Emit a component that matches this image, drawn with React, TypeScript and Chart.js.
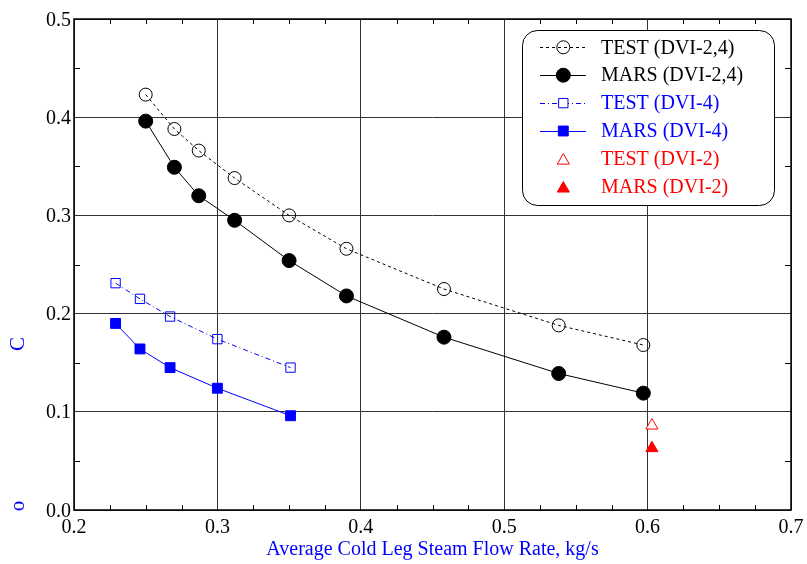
import React, { useEffect, useRef } from 'react';
import { Chart, registerables } from 'chart.js';

Chart.register(...registerables);

// ---- data ----
const flowDvi24 = [0.25, 0.27, 0.287, 0.312, 0.35, 0.39, 0.458, 0.538, 0.597];
const testDvi24 = [0.423, 0.388, 0.366, 0.338, 0.3, 0.266, 0.225, 0.188, 0.168];
const marsDvi24 = [0.396, 0.349, 0.32, 0.295, 0.254, 0.218, 0.176, 0.139, 0.119];

const flowDvi4 = [0.229, 0.246, 0.267, 0.3, 0.351];
const testDvi4 = [0.231, 0.215, 0.197, 0.174, 0.145];
const marsDvi4 = [0.19, 0.164, 0.145, 0.124, 0.096];

const flowDvi2 = [0.603];
const testDvi2 = [0.086];
const marsDvi2 = [0.063];

const xTicks = [0.2, 0.3, 0.4, 0.5, 0.6, 0.7];
const yTicks = [0.0, 0.1, 0.2, 0.3, 0.4, 0.5];
const xTickLabels = ['0.2', '0.3', '0.4', '0.5', '0.6', '0.7'];
const yTickLabels = ['0.0', '0.1', '0.2', '0.3', '0.4', '0.5'];
const xMinorTicks = [0.225, 0.25, 0.275, 0.325, 0.35, 0.375, 0.425, 0.45, 0.475, 0.525, 0.55, 0.575, 0.625, 0.65, 0.675];
const yMinorTicks = [0.05, 0.15, 0.25, 0.35, 0.45];

const seriesLabels = ['TEST (DVI-2,4)', 'MARS (DVI-2,4)', 'TEST (DVI-4)', 'MARS (DVI-4)', 'TEST (DVI-2)', 'MARS (DVI-2)'];
const xTitle = 'Average Cold Leg Steam Flow Rate, kg/s';
const yTitleParts = ['C', 'o'];

const SERIF = '"Liberation Serif", "Times New Roman", serif';
const BLUE = '#0000ff';
const RED = '#ff0000';

Chart.defaults.font.family = SERIF;

const pts = (xs: number[], ys: number[]) => xs.map((x, i) => ({ x, y: ys[i] }));

type LegendItem = {
  color: string;
  line: boolean;
  dash: number[];
  style: 'circle' | 'rect' | 'triangle';
  filled: boolean;
  size: number;
};

const legendStyles: LegendItem[] = [
  { color: '#000', line: true, dash: [3, 3], style: 'circle', filled: false, size: 6.5 },
  { color: '#000', line: true, dash: [], style: 'circle', filled: true, size: 7 },
  { color: BLUE, line: true, dash: [5, 3, 1, 3], style: 'rect', filled: false, size: 6.6 },
  { color: BLUE, line: true, dash: [], style: 'rect', filled: true, size: 7 },
  { color: RED, line: false, dash: [], style: 'triangle', filled: false, size: 7 },
  { color: RED, line: false, dash: [], style: 'triangle', filled: true, size: 7 },
];

function drawMarker(ctx: CanvasRenderingContext2D, it: LegendItem, x: number, y: number) {
  ctx.save();
  ctx.setLineDash([]);
  ctx.lineWidth = 1;
  ctx.strokeStyle = it.color;
  ctx.fillStyle = it.filled ? it.color : '#fff';
  ctx.beginPath();
  const r = it.size;
  if (it.style === 'circle') {
    ctx.arc(x, y, r, 0, Math.PI * 2);
  } else if (it.style === 'rect') {
    const h = r * Math.SQRT1_2;
    ctx.rect(x - h, y - h, 2 * h, 2 * h);
  } else {
    const yc = y + r * 0.25;
    ctx.moveTo(x, yc - r);
    ctx.lineTo(x + r * 0.866, yc + r * 0.5);
    ctx.lineTo(x - r * 0.866, yc + r * 0.5);
    ctx.closePath();
  }
  if (it.filled || it.style !== 'circle') ctx.fill();
  ctx.stroke();
  ctx.restore();
}

const decorPlugin = {
  id: 'decor',
  beforeDatasetsDraw(chart: any) {
    const { ctx, chartArea, scales } = chart;
    const { left, right, top, bottom } = chartArea;
    ctx.save();
    ctx.strokeStyle = '#000';
    ctx.lineWidth = 1;
    ctx.beginPath();
    for (const v of xMinorTicks) {
      const px = Math.round(scales.x.getPixelForValue(v)) + 0.5;
      ctx.moveTo(px, bottom);
      ctx.lineTo(px, bottom - 5);
      ctx.moveTo(px, top);
      ctx.lineTo(px, top + 5);
    }
    for (const v of yMinorTicks) {
      const py = Math.round(scales.y.getPixelForValue(v)) + 0.5;
      ctx.moveTo(left, py);
      ctx.lineTo(left + 6, py);
      ctx.moveTo(right, py);
      ctx.lineTo(right - 6, py);
    }
    ctx.stroke();
    ctx.lineWidth = 1.5;
    ctx.strokeRect(left, top, right - left, bottom - top);
    ctx.restore();
  },
  afterDraw(chart: any) {
    const { ctx, chartArea, scales } = chart;
    const { left, right, bottom } = chartArea;
    ctx.save();
    // tick labels
    ctx.font = `20px ${SERIF}`;
    ctx.fillStyle = '#000';
    ctx.textBaseline = 'alphabetic';
    ctx.textAlign = 'center';
    xTicks.forEach((v, i) => {
      ctx.fillText(xTickLabels[i], scales.x.getPixelForValue(v), bottom + 23);
    });
    ctx.textAlign = 'right';
    yTicks.forEach((v, i) => {
      ctx.fillText(yTickLabels[i], left - 3, scales.y.getPixelForValue(v) + 6.5);
    });
    // x axis title
    ctx.font = `20px ${SERIF}`;
    ctx.fillStyle = BLUE;
    ctx.textAlign = 'center';
    ctx.textBaseline = 'alphabetic';
    ctx.fillText(xTitle, (left + right) / 2, 555);
    // y axis title pieces
    ctx.font = `21px ${SERIF}`;
    const yPos = [344, 506];
    yTitleParts.forEach((t, i) => {
      ctx.save();
      ctx.translate(24, yPos[i]);
      ctx.rotate(-Math.PI / 2);
      ctx.textAlign = 'center';
      ctx.textBaseline = 'alphabetic';
      ctx.fillText(t, 0, 0);
      ctx.restore();
    });
    // legend box
    const bx = 522, by = 30, bw = 252, bh = 175;
    ctx.beginPath();
    (ctx as any).roundRect(bx + 0.5, by + 0.5, bw, bh, 15);
    ctx.fillStyle = '#fff';
    ctx.fill();
    ctx.strokeStyle = '#000';
    ctx.lineWidth = 1;
    ctx.stroke();
    const rowY0 = 47.3, rowGap = 27.9;
    legendStyles.forEach((it, i) => {
      const y = rowY0 + i * rowGap;
      if (it.line) {
        ctx.save();
        ctx.strokeStyle = it.color;
        ctx.lineWidth = 1;
        ctx.setLineDash(it.dash);
        ctx.beginPath();
        ctx.moveTo(540, Math.round(y) + 0.5);
        ctx.lineTo(586, Math.round(y) + 0.5);
        ctx.stroke();
        ctx.restore();
      }
      drawMarker(ctx, it, 563.3, y);
      ctx.font = `20px ${SERIF}`;
      ctx.fillStyle = it.color;
      ctx.textAlign = 'left';
      ctx.textBaseline = 'middle';
      ctx.fillText(seriesLabels[i], 601, y + 1);
    });
    ctx.restore();
  },
};

export default function App() {
  const ref = useRef<HTMLCanvasElement>(null);
  useEffect(() => {
    document.body.style.margin = '0';
    const canvas = ref.current!;
    const chart = new Chart(canvas, {
      type: 'line',
      data: {
        datasets: [
          {
            label: seriesLabels[0],
            data: pts(flowDvi24, testDvi24),
            borderColor: '#000',
            backgroundColor: 'rgba(0,0,0,0)',
            borderWidth: 1,
            borderDash: legendStyles[0].dash,
            pointStyle: 'circle',
            pointRadius: 6.5,
            pointBorderWidth: 1,
            pointBorderColor: '#000',
            pointBackgroundColor: 'rgba(0,0,0,0)',
          },
          {
            label: seriesLabels[1],
            data: pts(flowDvi24, marsDvi24),
            borderColor: '#000',
            backgroundColor: '#000',
            borderWidth: 1,
            pointStyle: 'circle',
            pointRadius: 7,
            pointBorderWidth: 1,
            pointBorderColor: '#000',
            pointBackgroundColor: '#000',
          },
          {
            label: seriesLabels[2],
            data: pts(flowDvi4, testDvi4),
            borderColor: BLUE,
            backgroundColor: 'rgba(0,0,0,0)',
            borderWidth: 1,
            borderDash: legendStyles[2].dash,
            pointStyle: 'rect',
            pointRadius: 6.6,
            pointBorderWidth: 1,
            pointBorderColor: BLUE,
            pointBackgroundColor: 'rgba(0,0,0,0)',
          },
          {
            label: seriesLabels[3],
            data: pts(flowDvi4, marsDvi4),
            borderColor: BLUE,
            backgroundColor: BLUE,
            borderWidth: 1,
            pointStyle: 'rect',
            pointRadius: 7,
            pointBorderWidth: 1,
            pointBorderColor: BLUE,
            pointBackgroundColor: BLUE,
          },
          {
            label: seriesLabels[4],
            data: pts(flowDvi2, testDvi2),
            showLine: false,
            borderColor: RED,
            backgroundColor: '#fff',
            pointStyle: 'triangle',
            pointRadius: 7,
            pointBorderWidth: 1,
            pointBorderColor: RED,
            pointBackgroundColor: '#fff',
          },
          {
            label: seriesLabels[5],
            data: pts(flowDvi2, marsDvi2),
            showLine: false,
            borderColor: RED,
            backgroundColor: RED,
            pointStyle: 'triangle',
            pointRadius: 7,
            pointBorderWidth: 1,
            pointBorderColor: RED,
            pointBackgroundColor: RED,
          },
        ],
      },
      options: {
        responsive: false,
        animation: false,
        devicePixelRatio: 1,
        layout: { padding: { top: 19, right: 16, left: 0, bottom: 0 } },
        plugins: {
          legend: { display: false },
          tooltip: { enabled: false },
          title: { display: false },
        },
        elements: { line: { tension: 0 } },
        scales: {
          x: {
            type: 'linear',
            min: 0.2,
            max: 0.7,
            afterBuildTicks: (s: any) => {
              s.ticks = xTicks.map((v) => ({ value: v }));
            },
            afterFit: (s: any) => {
              s.height = 54;
            },
            ticks: { display: false },
            grid: { color: '#333', lineWidth: 1, drawTicks: false },
            border: { display: false },
          },
          y: {
            type: 'linear',
            min: 0,
            max: 0.5,
            afterBuildTicks: (s: any) => {
              s.ticks = yTicks.map((v) => ({ value: v }));
            },
            afterFit: (s: any) => {
              s.width = 74;
            },
            ticks: { display: false },
            grid: { color: '#333', lineWidth: 1, drawTicks: false },
            border: { display: false },
          },
        },
      },
      plugins: [decorPlugin],
    } as any);
    return () => chart.destroy();
  }, []);
  return (
    <div style={{ width: 807, height: 564 }}>
      <canvas ref={ref} width={807} height={564} style={{ display: 'block' }} />
    </div>
  );
}
